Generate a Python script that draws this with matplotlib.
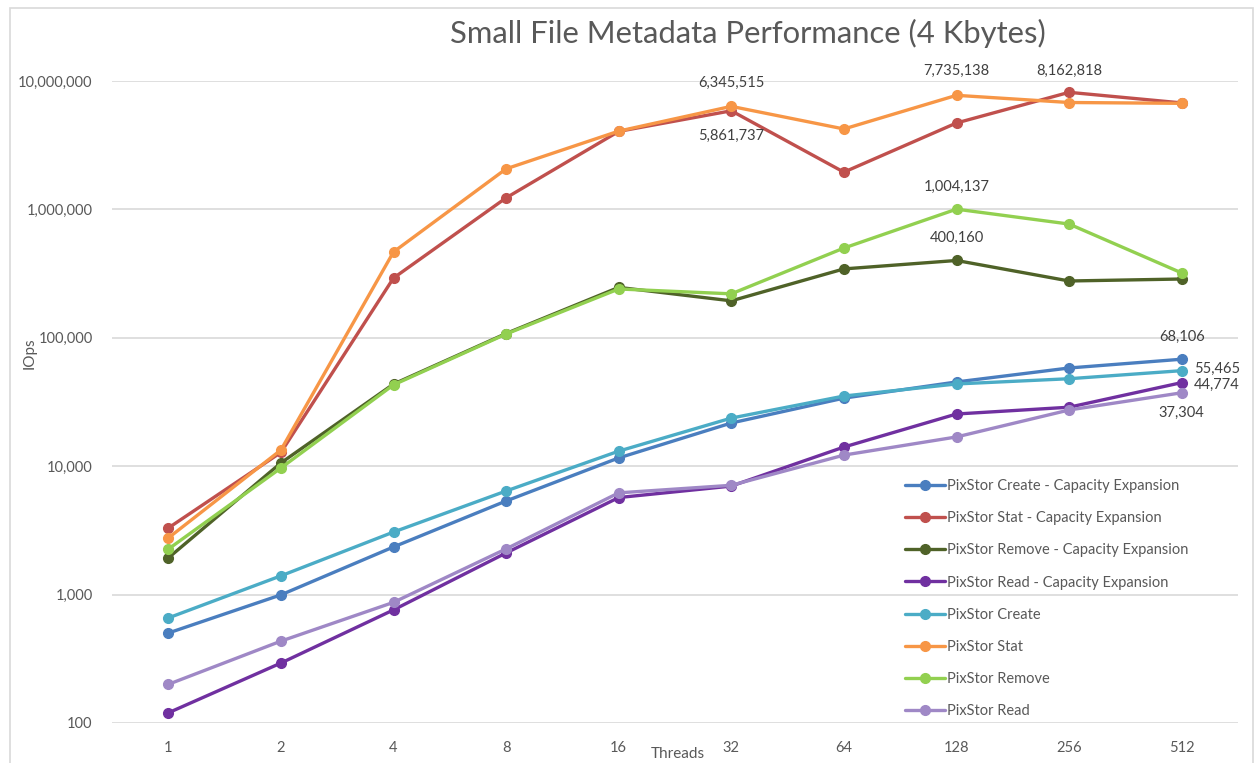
import matplotlib
matplotlib.use("Agg")
import matplotlib.pyplot as plt
from matplotlib.patches import Rectangle
from matplotlib.ticker import FixedLocator, FuncFormatter, NullLocator

plt.rcParams['font.family'] = ['Lato', 'DejaVu Sans']

threads = ["1", "2", "4", "8", "16", "32", "64", "128", "256", "512"]

create_ce = [502, 995, 2350, 5360, 11600, 21700, 33900, 45300, 58200, 68106]
stat_ce = [3300, 12800, 292000, 1230000, 4050000, 5861737, 1950000, 4710000, 8162818, 6750000]
remove_ce = [1930, 10600, 43600, 108000, 247000, 194000, 344000, 400160, 277000, 287000]
read_ce = [120, 293, 760, 2110, 5700, 7000, 14100, 25500, 28800, 44774]
create = [658, 1400, 3070, 6410, 13100, 23700, 35200, 43700, 48000, 55465]
stat = [2760, 13370, 466000, 2070000, 4070000, 6345515, 4230000, 7735138, 6800000, 6700000]
remove = [2260, 9680, 43000, 107000, 240000, 220000, 500000, 1004137, 769000, 320000]
read = [200, 434, 870, 2270, 6200, 7100, 12200, 16900, 27400, 37304]

series_names = [
    "PixStor Create - Capacity Expansion",
    "PixStor Stat - Capacity Expansion",
    "PixStor Remove - Capacity Expansion",
    "PixStor Read - Capacity Expansion",
    "PixStor Create",
    "PixStor Stat",
    "PixStor Remove",
    "PixStor Read",
]
series_values = [create_ce, stat_ce, remove_ce, read_ce, create, stat, remove, read]
series_colors = ["#4A7EBF", "#C0504D", "#4F6228", "#7030A0",
                 "#4BACC6", "#F79646", "#92D050", "#9F88C6"]

fig = plt.figure(figsize=(12.56, 7.63), dpi=100)
fig.patch.set_facecolor("white")

# light outer chart border
fig.add_artist(Rectangle((10 / 1256, -0.01), 1243 / 1256, 1 - 8 / 763 + 0.01,
                         transform=fig.transFigure, fill=False,
                         edgecolor="#D9D9D9", linewidth=1.2))

ax = fig.add_axes([112 / 1256, 1 - 723 / 763, 1126 / 1256, 642 / 763])
x = list(range(len(threads)))

lines = []
for name, vals, col in zip(series_names, series_values, series_colors):
    ln, = ax.plot(x, vals, color=col, linewidth=2.4, marker="o",
                  markersize=7, markeredgecolor=col, label=name,
                  solid_capstyle="round", solid_joinstyle="round")
    lines.append(ln)

ax.set_yscale("log")
ax.set_ylim(100, 10_000_000)
ax.set_xlim(-0.5, len(threads) - 0.5)
ax.yaxis.set_major_locator(FixedLocator([100, 1_000, 10_000, 100_000, 1_000_000, 10_000_000]))
ax.yaxis.set_minor_locator(NullLocator())
ax.yaxis.set_major_formatter(FuncFormatter(lambda v, p: f"{int(round(v)):,}"))
ax.set_xticks(x)
ax.set_xticklabels(threads)
ax.tick_params(axis="both", length=0, labelsize=10.5, labelcolor="#595959")
ax.tick_params(axis="y", pad=14)
ax.tick_params(axis="x", pad=13)
for s in ax.spines.values():
    s.set_visible(False)
ax.grid(axis="y", color="#D9D9D9", linewidth=1.2)
ax.set_axisbelow(True)

fig.text(748 / 1256, 1 - 33 / 763, "Small File Metadata Performance (4 Kbytes)",
         ha="center", va="center", fontsize=22.3, color="#595959")
fig.text(678 / 1256, 1 - 754 / 763, "Threads", ha="center", va="center",
         fontsize=11, color="#595959")
fig.text(30 / 1256, 1 - 353 / 763, "IOps", ha="center", va="center",
         rotation=90, fontsize=11, color="#595959")

# value labels
def label(series, idx, text_dx, text_dy, ha="center"):
    v = series[idx]
    ax.annotate(f"{v:,}", (idx, v), xytext=(text_dx, text_dy),
                textcoords="offset pixels", ha=ha, va="center",
                fontsize=10.5, color="#404040")

label(stat, 5, 0, 23)
label(stat_ce, 5, 0, -25)
label(stat, 7, 0, 24)
label(stat_ce, 8, 0, 21)
label(remove, 7, 0, 22)
label(remove_ce, 7, 0, 23)
label(create_ce, 9, 0, 22)
label(create, 9, 12, 2, ha="left")
label(read_ce, 9, 12, -2, ha="left")
label(read, 9, 0, -20)

leg = ax.legend(handles=lines, loc="upper left",
                bbox_to_anchor=(898 / 1256, 1 - 472 / 763),
                bbox_transform=fig.transFigure, frameon=False,
                fontsize=10.5, labelcolor="#595959", handlelength=2.7,
                handletextpad=0.15, labelspacing=1.24, borderpad=0)

fig.savefig("out.png", dpi=100, facecolor="white")
